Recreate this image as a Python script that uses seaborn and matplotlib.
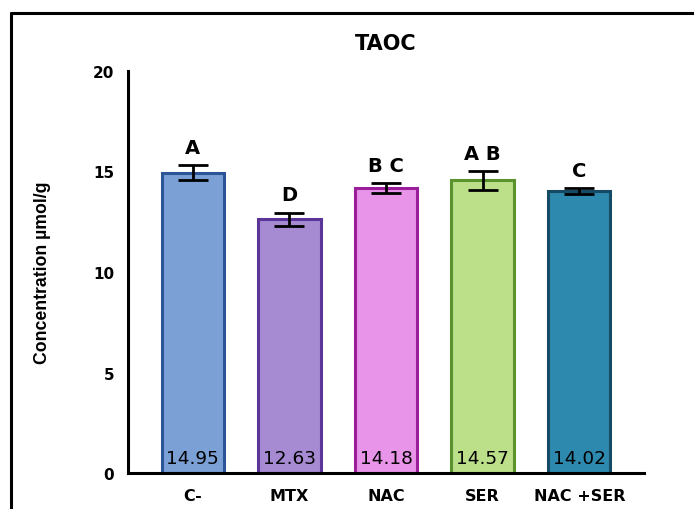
import matplotlib
matplotlib.use("Agg")
import matplotlib.pyplot as plt
import seaborn as sns
import pandas as pd
from matplotlib.lines import Line2D

groups = ["C-", "MTX", "NAC", "SER", "NAC +SER"]
means = [14.95, 12.63, 14.18, 14.57, 14.02]
sems = [0.37, 0.33, 0.23, 0.47, 0.16]
letters = ["A", "D", "B C", "A B", "C"]
fills = ["#7BA0D5", "#A68AD2", "#E894E8", "#BCDF8A", "#2E89AE"]
edges = ["#2C5597", "#5B3597", "#9A1E9A", "#5A922D", "#154A64"]
yticks = [0, 5, 10, 15, 20]

sns.set_style("white")
plt.rcParams["font.family"] = ["DejaVu Sans"]
plt.rcParams["text.color"] = "black"
plt.rcParams["axes.labelcolor"] = "black"
plt.rcParams["xtick.color"] = "black"
plt.rcParams["ytick.color"] = "black"

df = pd.DataFrame({"group": groups, "value": means})

fig = plt.figure(figsize=(6.94, 5.10), dpi=100)
ax = fig.add_axes([128/694, 36/510, (644-128)/694, (474-72)/510])

sns.barplot(data=df, x="group", y="value", hue="group", palette=fills,
            legend=False, width=0.645, ax=ax, errorbar=None, saturation=1)
for patch, ec in zip(ax.patches, edges):
    patch.set_edgecolor(ec)
    patch.set_linewidth(2.2)

ax.errorbar(range(len(groups)), means, yerr=sems, fmt="none", ecolor="black",
            elinewidth=2.0, capsize=11, capthick=2.0, zorder=5)

for i, (m, s, lab) in enumerate(zip(means, sems, letters)):
    ax.text(i, m + s + 0.88, lab, ha="center", va="center",
            fontsize=14, fontweight="bold", color="black")
    ax.text(i, 0.3, f"{m:.2f}", ha="center", va="bottom",
            fontsize=13.3, color="black")

ax.set_xlim(-0.67, 4.67)
ax.set_ylim(0, 20)
ax.set_yticks(yticks)
ax.set_xlabel("")
ax.set_ylabel("Concentration µmol/g", fontsize=12.7, fontweight="bold",
              family=["Liberation Sans", "DejaVu Sans"], labelpad=30, color="black")
ax.set_title("TAOC", fontsize=15, fontweight="bold", pad=16, color="black")

for side in ["top", "right"]:
    ax.spines[side].set_visible(False)
for side in ["left", "bottom"]:
    ax.spines[side].set_linewidth(2.2)
    ax.spines[side].set_color("black")

ax.tick_params(axis="both", which="both", direction="out", length=7, width=2.2,
               color="black", labelcolor="black")
ax.tick_params(axis="x", pad=3.5, labelsize=11.5)
ax.tick_params(axis="y", pad=3, labelsize=11)
for t in ax.get_xticklabels() + ax.get_yticklabels():
    t.set_fontweight("bold")

# outer frame
bx = 11/694
by = 1 - 14/510
fig.add_artist(Line2D([bx, bx], [-0.01, by], transform=fig.transFigure, color="black", lw=2.2))
fig.add_artist(Line2D([bx, 1.01], [by, by], transform=fig.transFigure, color="black", lw=2.2))

fig.savefig("out.png", dpi=100)
